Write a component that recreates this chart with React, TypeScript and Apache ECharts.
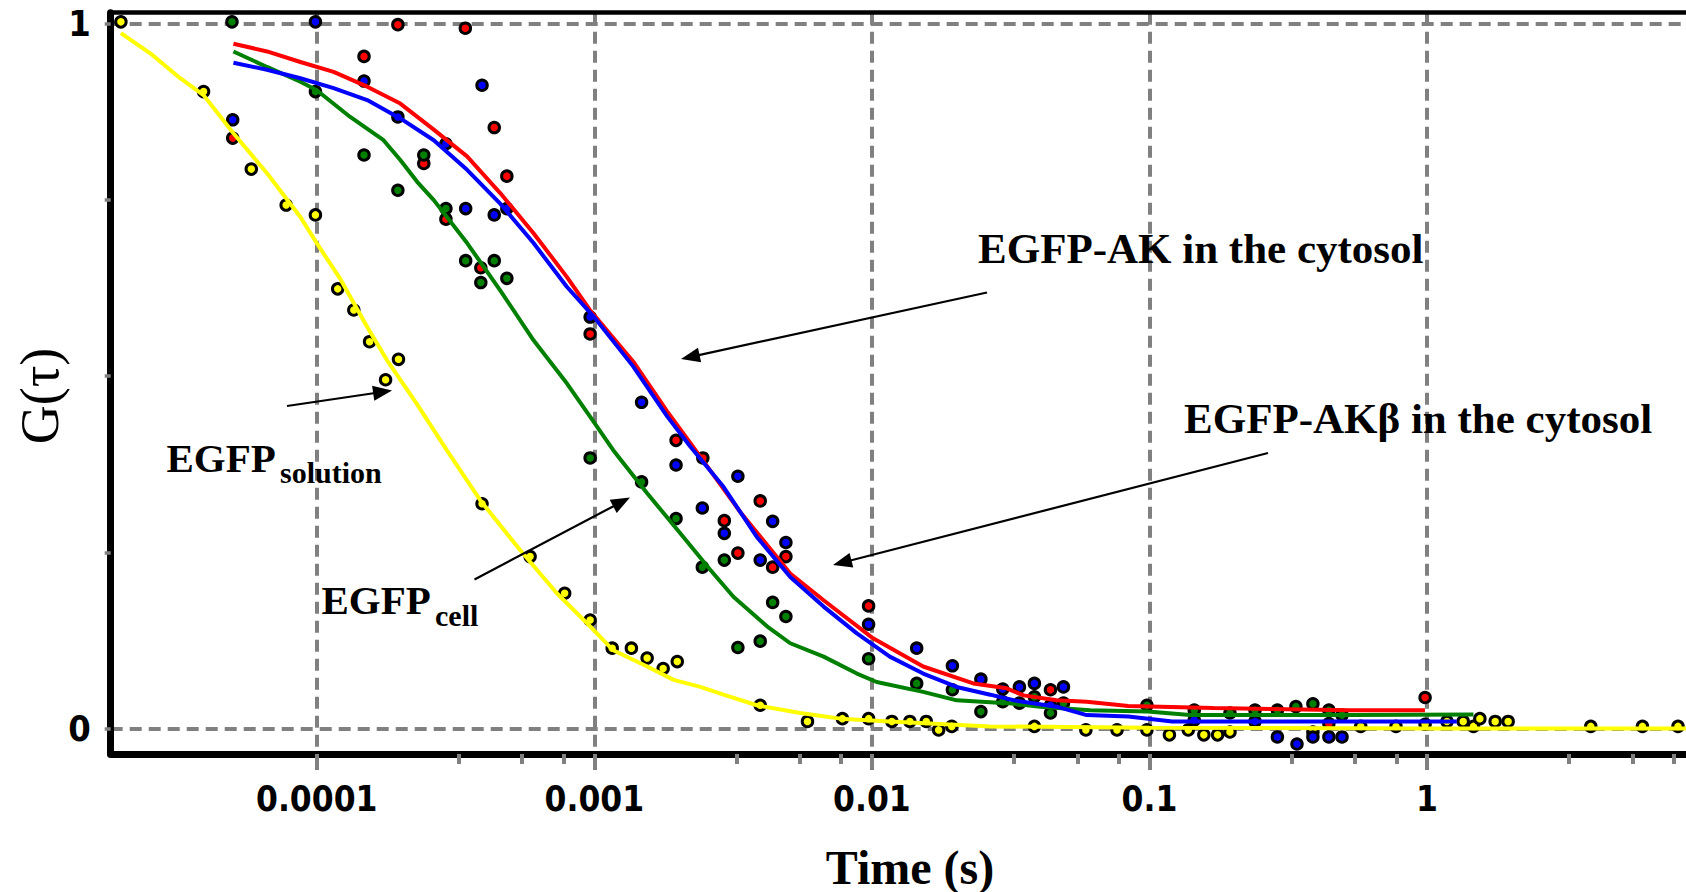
import React, { useEffect, useRef } from "react";
import * as echarts from "echarts";

// ---------- axis ticks / labels ----------
const xMajorTicks = [0.0001, 0.001, 0.01, 0.1, 1];
const xMajorLabels = ["0.0001", "0.001", "0.01", "0.1", "1"];
const xMinorTicks = [
  3.25e-4, 5.5e-4, 7.75e-4,
  3.25e-3, 5.5e-3, 7.75e-3,
  0.0325, 0.055, 0.0775,
  0.325, 0.55, 0.775,
  3.25, 5.5, 7.75,
];
const yTicks = [0, 0.25, 0.5, 0.75, 1];
const yLabelTicks = [0, 1];
const yLabels = ["0", "1"];
const yGridValues = [0, 1];

const X_MIN = 1.81e-5;
const X_MAX = 10;
const Y_MIN = -0.0362;
const Y_MAX = 1.016;

// ---------- fitted curves [time (s), G(tau)] ----------
const yellowFit = [
  [1.97e-5, 0.987], [2.52e-5, 0.958], [3.22e-5, 0.923], [3.91e-5, 0.899], [5.01e-5, 0.845],
  [6.62e-5, 0.788], [8.73e-5, 0.726], [1.0e-4, 0.689], [1.22e-4, 0.637], [1.52e-4, 0.57],
  [1.79e-4, 0.523], [2.3e-4, 0.46], [2.94e-4, 0.395], [3.88e-4, 0.324], [5.41e-4, 0.253],
  [7.33e-4, 0.192], [9.66e-4, 0.145], [1.17e-3, 0.111], [1.55e-3, 0.088], [1.93e-3, 0.069],
  [2.41e-3, 0.059], [2.92e-3, 0.048], [3.85e-3, 0.033], [5.52e-3, 0.022], [7.69e-3, 0.014],
  [0.0116, 0.01], [0.0267, 0.003], [0.1, 0.001], [1, 0.0], [9.5, 0.0],
];
const greenFit = [
  [5.01e-5, 0.961], [6.62e-5, 0.939], [8.73e-5, 0.918], [1.0e-4, 0.906], [1.32e-4, 0.868],
  [1.74e-4, 0.835], [2.0e-4, 0.807], [2.3e-4, 0.776], [2.64e-4, 0.75], [3.48e-4, 0.689],
  [4.58e-4, 0.622], [6.04e-4, 0.551], [7.96e-4, 0.49], [9.64e-4, 0.443], [1.17e-3, 0.395],
  [1.55e-3, 0.334], [2.04e-3, 0.277], [2.62e-3, 0.225], [3.17e-3, 0.187], [4.19e-3, 0.145],
  [5.08e-3, 0.121], [6.7e-3, 0.102], [8.83e-3, 0.078], [0.0104, 0.066], [0.0153, 0.052],
  [0.0202, 0.04], [0.0306, 0.036], [0.0404, 0.031], [0.0611, 0.026], [0.0986, 0.024],
  [0.14, 0.019], [0.527, 0.019], [1.47, 0.02],
];
const redFit = [
  [5.01e-5, 0.972], [6.62e-5, 0.961], [8.73e-5, 0.946], [1.15e-4, 0.932], [1.52e-4, 0.911],
  [2.0e-4, 0.887], [2.64e-4, 0.85], [3.48e-4, 0.812], [4.58e-4, 0.76], [6.04e-4, 0.703],
  [7.96e-4, 0.641], [9.64e-4, 0.594], [1.38e-3, 0.521], [1.83e-3, 0.45], [2.22e-3, 0.405],
  [3.36e-3, 0.307], [5.08e-3, 0.22], [6.7e-3, 0.182], [0.0101, 0.128], [0.0153, 0.088],
  [0.0232, 0.064], [0.0306, 0.057], [0.0352, 0.047], [0.0463, 0.04], [0.0594, 0.038],
  [0.0839, 0.032], [0.17, 0.029], [0.528, 0.026], [0.983, 0.026],
];
const blueFit = [
  [5.01e-5, 0.945], [6.62e-5, 0.935], [8.73e-5, 0.923], [1.15e-4, 0.909], [1.52e-4, 0.892],
  [2.0e-4, 0.866], [2.64e-4, 0.835], [3.48e-4, 0.793], [4.58e-4, 0.745], [6.04e-4, 0.689],
  [7.96e-4, 0.627], [9.93e-4, 0.585], [1.38e-3, 0.514], [1.83e-3, 0.443], [2.22e-3, 0.4],
  [2.92e-3, 0.343], [3.85e-3, 0.272], [5.08e-3, 0.215], [6.7e-3, 0.173], [8.83e-3, 0.135],
  [0.0116, 0.102], [0.0153, 0.078], [0.0202, 0.059], [0.0267, 0.048], [0.0324, 0.04],
  [0.0463, 0.031], [0.0594, 0.019], [0.0839, 0.017], [0.121, 0.01], [0.528, 0.01], [1.28, 0.01],
];

// ---------- measured points [time (s), G(tau)] ----------
const yellowPts = [
  [1.97e-5, 1.003], [3.91e-5, 0.904], [5.81e-5, 0.794], [7.76e-5, 0.743], [9.89e-5, 0.729],
  [1.19e-4, 0.624], [1.36e-4, 0.594], [1.55e-4, 0.549], [1.77e-4, 0.495], [1.97e-4, 0.524],
  [3.94e-4, 0.319], [5.87e-4, 0.244], [7.82e-4, 0.192], [9.66e-4, 0.154], [1.16e-3, 0.114],
  [1.36e-3, 0.114], [1.55e-3, 0.1], [1.77e-3, 0.085], [1.99e-3, 0.095], [3.96e-3, 0.033],
  [5.86e-3, 0.01], [7.83e-3, 0.014], [9.73e-3, 0.014], [0.0118, 0.01], [0.0137, 0.01],
  [0.0157, 0.01], [0.0174, -0.002], [0.0194, 0.003], [0.0385, 0.003], [0.059, -0.002],
  [0.0764, -0.002], [0.0979, -0.002], [0.118, -0.009], [0.138, -0.002], [0.157, -0.009],
  [0.176, -0.009], [0.195, -0.005], [0.388, -0.005], [0.577, 0.003], [0.773, 0.003],
  [0.984, 0.006], [1.18, 0.01], [1.35, 0.01], [1.47, 0.003], [1.55, 0.014], [1.76, 0.01],
  [1.96, 0.01], [3.89, 0.003], [5.97, 0.003], [8.02, 0.003],
];
const redPts = [
  [1.96e-4, 0.999], [3.43e-4, 0.994], [1.48e-4, 0.954], [4.98e-5, 0.838], [4.36e-4, 0.853],
  [2.43e-4, 0.802], [4.84e-4, 0.784], [2.92e-4, 0.723], [3.9e-4, 0.654], [9.66e-4, 0.56],
  [1.97e-3, 0.409], [2.46e-3, 0.384], [3.96e-3, 0.323], [2.94e-3, 0.295], [3.29e-3, 0.249],
  [4.9e-3, 0.244], [4.39e-3, 0.229], [9.73e-3, 0.174], [0.044, 0.055], [0.443, 0.007],
  [0.984, 0.044],
];
const bluePts = [
  [9.89e-5, 1.003], [1.48e-4, 0.919], [4.98e-5, 0.864], [1.96e-4, 0.868], [3.94e-4, 0.913],
  [2.92e-4, 0.83], [3.44e-4, 0.738], [4.36e-4, 0.729], [4.84e-4, 0.738], [9.66e-4, 0.584],
  [1.48e-3, 0.463], [1.97e-3, 0.374], [2.45e-3, 0.313], [3.29e-3, 0.358], [2.94e-3, 0.277],
  [4.39e-3, 0.294], [4.9e-3, 0.264], [3.96e-3, 0.239], [9.73e-3, 0.148], [0.0145, 0.114],
  [0.0195, 0.089], [0.0247, 0.07], [0.0296, 0.056], [0.034, 0.059], [0.0385, 0.064],
  [0.044, 0.033], [0.049, 0.059], [0.145, 0.012], [0.24, 0.01], [0.289, -0.012],
  [0.34, -0.022], [0.388, -0.012], [0.443, -0.012], [0.494, -0.012],
];
const greenPts = [
  [4.95e-5, 1.003], [9.89e-5, 0.904], [1.48e-4, 0.814], [1.96e-4, 0.764], [2.43e-4, 0.814],
  [2.92e-4, 0.738], [3.44e-4, 0.664], [4.36e-4, 0.664], [3.9e-4, 0.633], [4.84e-4, 0.639],
  [9.66e-4, 0.384], [1.48e-3, 0.35], [1.97e-3, 0.298], [2.45e-3, 0.229], [2.94e-3, 0.239],
  [4.39e-3, 0.179], [4.9e-3, 0.159], [3.29e-3, 0.115], [3.96e-3, 0.124], [9.73e-3, 0.099],
  [0.0145, 0.064], [0.0195, 0.055], [0.0247, 0.024], [0.0296, 0.038], [0.034, 0.036],
  [0.0385, 0.045], [0.044, 0.022], [0.049, 0.036], [0.0979, 0.033], [0.145, 0.026],
  [0.195, 0.022], [0.24, 0.026], [0.289, 0.026], [0.337, 0.031], [0.388, 0.035],
  [0.443, 0.026], [0.494, 0.019],
];

// ---------- colours / styles ----------
const YELLOW = "#FFFF00";
const GREEN = "#008000";
const BLUE = "#0000FF";
const RED = "#FF0000";
const GRID_GRAY = "#808080";
const TICK_FONT = "'Liberation Sans Narrow', 'DejaVu Sans Condensed', 'Liberation Sans', Arial, sans-serif";
const SERIF = "'Liberation Serif', 'Times New Roman', serif";
const DASH = [12, 7];

// annotation layout (pixels)
const arrows = [
  { from: [987, 292.5], to: [681, 359] },
  { from: [1268, 453], to: [833, 565] },
  { from: [287, 406], to: [392, 390.5] },
  { from: [474.5, 579.5], to: [630, 497.5] },
];

function arrowElements(a: { from: number[]; to: number[] }) {
  const [x1, y1] = a.from;
  const [x2, y2] = a.to;
  const dx = x2 - x1;
  const dy = y2 - y1;
  const len = Math.hypot(dx, dy);
  const ux = dx / len;
  const uy = dy / len;
  const L = 19;
  const W = 7.5;
  const bx = x2 - ux * L;
  const by = y2 - uy * L;
  const px = -uy;
  const py = ux;
  return [
    { type: "line", shape: { x1, y1, x2: bx + ux * 2, y2: by + uy * 2 }, style: { stroke: "#000", lineWidth: 2.2 }, z: 20 },
    {
      type: "polygon",
      shape: { points: [[x2, y2], [bx + px * W, by + py * W], [bx - px * W, by - py * W]] },
      style: { fill: "#000" },
      z: 20,
    },
  ];
}

function textEl(text: string, x: number, y: number, size: number, weight: string, align = "left", rotation = 0) {
  return {
    type: "text",
    x,
    y,
    rotation,
    z: 20,
    style: {
      text,
      fill: "#000",
      fontFamily: SERIF,
      fontSize: size,
      fontWeight: weight,
      align,
      verticalAlign: "middle",
    },
  };
}

function scatter(name: string, data: number[][], color: string, markLine?: any) {
  return {
    name,
    type: "scatter",
    data,
    symbol: "circle",
    symbolSize: 10.5,
    itemStyle: { color, borderColor: "#000", borderWidth: 3, opacity: 1 },
    z: 3,
    ...(markLine ? { markLine } : {}),
  };
}

function fitLine(name: string, data: number[][], color: string) {
  return {
    name,
    type: "line",
    data,
    showSymbol: false,
    symbol: "none",
    lineStyle: { color, width: 4 },
    z: 4,
  };
}

const xLabelFormatter = (v: number) => {
  const i = xMajorTicks.findIndex((t) => Math.abs(Math.log10(t) - Math.log10(v)) < 1e-3);
  return i >= 0 ? xMajorLabels[i] : "";
};
const yLabelFormatter = (v: number) => {
  const i = yLabelTicks.findIndex((t) => Math.abs(t - v) < 1e-6);
  return i >= 0 ? yLabels[i] : "";
};

export default function App() {
  const ref = useRef<HTMLDivElement>(null);

  useEffect(() => {
    if (!ref.current) return;
    const chart = echarts.init(ref.current, null, { renderer: "svg" });

    const gridMarkLine = {
      silent: true,
      symbol: ["none", "none"],
      label: { show: false },
      lineStyle: { color: GRID_GRAY, type: DASH, width: 4 },
      z: 1,
      data: yGridValues.map((v) => ({ yAxis: v })),
    };

    const option: any = {
      animation: false,
      backgroundColor: "#fff",
      grid: {
        left: 110.7,
        right: -18.6,
        top: 12.7,
        bottom: 138,
        containLabel: false,
        outerBoundsMode: "none",
      },
      xAxis: [
        {
          type: "log",
          logBase: 10,
          position: "bottom",
          min: X_MIN,
          max: X_MAX,
          z: 0,
          axisLine: { show: true, onZero: false, lineStyle: { color: "#000", width: 7 } },
          axisTick: {
            show: true,
            customValues: xMajorTicks,
            length: 16,
            lineStyle: { color: GRID_GRAY, width: 4 },
          },
          axisLabel: {
            show: true,
            customValues: xMajorTicks,
            formatter: xLabelFormatter,
            color: "#000",
            fontFamily: TICK_FONT,
            fontWeight: "bold",
            fontSize: 35,
            margin: 27,
          },
          splitLine: { show: true, lineStyle: { color: GRID_GRAY, type: DASH, width: 4 } },
        },
        {
          type: "log",
          logBase: 10,
          position: "top",
          min: X_MIN,
          max: X_MAX,
          z: 6,
          axisLine: { show: true, onZero: false, lineStyle: { color: "#000", width: 4.5 } },
          axisTick: { show: false },
          axisLabel: { show: false },
          splitLine: { show: false },
        },
        {
          type: "log",
          logBase: 10,
          position: "bottom",
          min: X_MIN,
          max: X_MAX,
          z: 0,
          axisLine: { show: false, onZero: false },
          axisTick: {
            show: true,
            customValues: xMinorTicks,
            length: 10,
            lineStyle: { color: GRID_GRAY, width: 4 },
          },
          axisLabel: { show: false },
          splitLine: { show: false },
        },
      ],
      yAxis: {
        type: "value",
        min: Y_MIN,
        max: Y_MAX,
        z: 6,
        axisLine: { show: true, onZero: false, lineStyle: { color: "#000", width: 7 } },
        axisTick: {
          show: true,
          customValues: yTicks,
          length: 6,
          lineStyle: { color: GRID_GRAY, width: 3.5 },
        },
        axisLabel: {
          show: true,
          customValues: yLabelTicks,
          formatter: yLabelFormatter,
          color: "#000",
          fontFamily: TICK_FONT,
          fontWeight: "bold",
          fontSize: 36,
          margin: 20,
        },
        splitLine: { show: false },
      },
      series: [
        scatter("EGFP solution points", yellowPts, YELLOW, gridMarkLine),
        scatter("EGFP-AK points", redPts, RED),
        scatter("EGFP-AKβ points", bluePts, BLUE),
        scatter("EGFP cell points", greenPts, GREEN),
        fitLine("EGFP solution fit", yellowFit, YELLOW),
        fitLine("EGFP cell fit", greenFit, GREEN),
        fitLine("EGFP-AK fit", redFit, RED),
        fitLine("EGFP-AKβ fit", blueFit, BLUE),
      ],
      graphic: [
        textEl("G(τ)", 40, 396, 54, "normal", "center", Math.PI / 2),
        textEl("Time (s)", 910, 867, 48, "bold", "center"),
        textEl("EGFP-AK in the cytosol", 978, 248, 43, "bold"),
        textEl("EGFP-AKβ in the cytosol", 1184, 418, 43, "bold"),
        textEl("EGFP", 166.5, 458, 41, "bold"),
        textEl("solution", 280, 472, 30, "bold"),
        textEl("EGFP", 321.5, 599.5, 41, "bold"),
        textEl("cell", 435, 615, 30, "bold"),
        ...arrows.flatMap((a) => arrowElements(a)),
      ],
    };

    chart.setOption(option);
    return () => chart.dispose();
  }, []);

  return (
    <div
      ref={ref}
      style={{ position: "absolute", left: 0, top: 0, width: 1686, height: 892, background: "#fff" }}
    />
  );
}
